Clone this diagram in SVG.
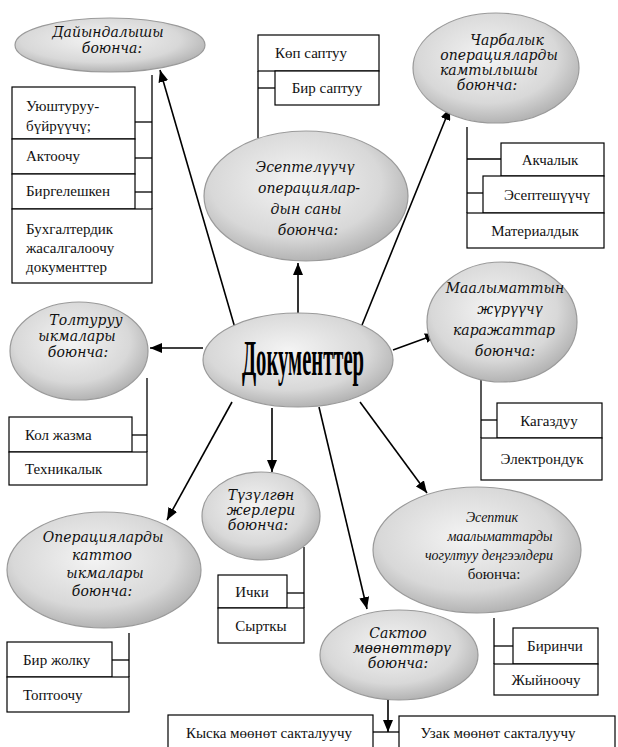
<svg xmlns="http://www.w3.org/2000/svg" width="618" height="747" viewBox="0 0 618 747">
<defs>
<radialGradient id="eg" cx="0.45" cy="0.4" r="0.6">
<stop offset="0" stop-color="#f4f4f4"/>
<stop offset="0.7" stop-color="#d8d8d8"/>
<stop offset="1" stop-color="#b4b4b4"/>
</radialGradient>
<marker id="ah" markerWidth="12" markerHeight="10" refX="12" refY="5" orient="auto" markerUnits="userSpaceOnUse">
<path d="M0,0 L12,5 L0,10 z" fill="#000"/>
</marker>
</defs>
<style>
.ell{fill:url(#eg);stroke:#9a9a9a;stroke-width:1.2}
.box{fill:#fff;stroke:#000;stroke-width:1.2}
.ln{stroke:#000;stroke-width:1.3;fill:none}
.arr{stroke:#000;stroke-width:1.6;fill:none;marker-end:url(#ah)}
.bt{font-family:'Liberation Serif',serif;font-size:15px;fill:#111}
.it{font-family:'DejaVu Serif','Liberation Serif',serif;font-style:italic;font-size:14px;fill:#111;text-anchor:middle}
.it2{font-family:'Liberation Serif',serif;font-style:italic;font-size:14px;fill:#111;text-anchor:middle}
.c{text-anchor:middle}
</style>
<rect width="618" height="747" fill="#fff"/>

<g id="connectors">
<line class="arr" x1="235" y1="328" x2="160" y2="70"/>
<line class="arr" x1="298" y1="313" x2="298" y2="263"/>
<line class="arr" x1="360" y1="330" x2="450" y2="108"/>
<line class="arr" x1="393" y1="350" x2="437" y2="334"/>
<line class="arr" x1="203" y1="348" x2="150" y2="348"/>
<line class="arr" x1="232" y1="402" x2="167" y2="520"/>
<line class="arr" x1="272" y1="408" x2="272" y2="472"/>
<line class="arr" x1="319" y1="407" x2="367" y2="609"/>
<line class="arr" x1="360" y1="402" x2="427" y2="493"/>
<line class="arr" x1="388" y1="700" x2="388" y2="732"/>
<line class="ln" x1="373" y1="732" x2="399" y2="732"/>
<line class="ln" x1="152" y1="75" x2="152" y2="209"/>
<line class="ln" x1="135" y1="122" x2="152" y2="122"/>
<line class="ln" x1="135" y1="158" x2="152" y2="158"/>
<line class="ln" x1="135" y1="192" x2="152" y2="192"/>
<line class="ln" x1="258" y1="71" x2="258" y2="138"/>
<line class="ln" x1="258" y1="88" x2="275" y2="88"/>
<line class="ln" x1="467" y1="127" x2="467" y2="213"/>
<line class="ln" x1="467" y1="159" x2="501" y2="159"/>
<line class="ln" x1="467" y1="193" x2="483" y2="193"/>
<line class="ln" x1="481" y1="380" x2="481" y2="438"/>
<line class="ln" x1="481" y1="420" x2="497" y2="420"/>
<line class="ln" x1="147" y1="378" x2="147" y2="452"/>
<line class="ln" x1="132" y1="435" x2="147" y2="435"/>
<line class="ln" x1="129" y1="633" x2="129" y2="677"/>
<line class="ln" x1="112" y1="660" x2="129" y2="660"/>
<line class="ln" x1="304" y1="547" x2="304" y2="608"/>
<line class="ln" x1="287" y1="593" x2="304" y2="593"/>
<line class="ln" x1="494" y1="618" x2="494" y2="664"/>
<line class="ln" x1="494" y1="646" x2="513" y2="646"/>
</g>

<g id="center">
<ellipse class="ell" cx="298" cy="360" rx="95" ry="47"/>
<text transform="translate(303,375) scale(0.41,1)" x="0" y="0" font-family="'Liberation Serif',serif" font-weight="bold" font-size="50" text-anchor="middle" textLength="298" lengthAdjust="spacingAndGlyphs" fill="#000">Документтер</text>
</g>

<g id="n-dayyn">
<ellipse class="ell" cx="110" cy="45" rx="95" ry="27"/>
<text class="it" x="108" y="37">Дайындалышы</text>
<text class="it" x="112" y="53">боюнча:</text>
<rect class="box" x="12" y="87" width="123" height="52"/>
<rect class="box" x="12" y="139" width="123" height="35"/>
<rect class="box" x="12" y="174" width="123" height="35"/>
<rect class="box" x="12" y="209" width="140" height="74"/>
<text class="bt" x="26" y="111">Уюштуруу-</text>
<text class="bt" x="26" y="131">бүйрүүчү;</text>
<text class="bt" x="26" y="161">Актоочу</text>
<text class="bt" x="26" y="196">Биргелешкен</text>
<text class="bt" x="26" y="234">Бухгалтердик</text>
<text class="bt" x="26" y="253">жасалгалоочу</text>
<text class="bt" x="26" y="272">документтер</text>
</g>

<g id="n-esep">
<ellipse class="ell" cx="306" cy="196" rx="102" ry="65"/>
<text class="it" x="305" y="172" font-size="15">Эсептелүүчү</text>
<text class="it" x="309" y="193" font-size="15">операциялар-</text>
<text class="it" x="306" y="214" font-size="15">дын саны</text>
<text class="it" x="308" y="235" font-size="15">боюнча:</text>
<rect class="box" x="258" y="35" width="121" height="36"/>
<rect class="box" x="275" y="71" width="104" height="34"/>
<text class="bt c" x="311" y="58">Көп саптуу</text>
<text class="bt c" x="327" y="93">Бир саптуу</text>
</g>

<g id="n-charb">
<ellipse class="ell" cx="496" cy="68" rx="83" ry="55"/>
<text class="it" x="507" y="45" font-size="12">Чарбалык</text>
<text class="it" x="499" y="60" font-size="12">операцияларды</text>
<text class="it" x="489" y="75" font-size="12">камтылышы</text>
<text class="it" x="487" y="90" font-size="12">боюнча:</text>
<rect class="box" x="501" y="143" width="103" height="33"/>
<rect class="box" x="483" y="176" width="121" height="37"/>
<rect class="box" x="467" y="213" width="137" height="35"/>
<text class="bt c" x="550" y="165">Акчалык</text>
<text class="bt c" x="547" y="200">Эсептешүүчү</text>
<text class="bt c" x="535" y="236">Материалдык</text>
</g>

<g id="n-maal">
<ellipse class="ell" cx="502" cy="322" rx="75" ry="60"/>
<text class="it" x="505" y="293" font-size="12.5">Маалыматтын</text>
<text class="it" x="510" y="314" font-size="12.5">жүрүүчү</text>
<text class="it" x="504" y="335" font-size="12.5">каражаттар</text>
<text class="it" x="505" y="356" font-size="12.5">боюнча:</text>
<rect class="box" x="497" y="403" width="105" height="35"/>
<rect class="box" x="481" y="438" width="121" height="42"/>
<text class="bt c" x="549" y="426">Кагаздуу</text>
<text class="bt c" x="542" y="464">Электрондук</text>
</g>

<g id="n-tolt">
<ellipse class="ell" cx="79" cy="351" rx="69" ry="49"/>
<text class="it" x="86" y="325" font-size="13">Толтуруу</text>
<text class="it" x="77" y="341" font-size="13">ыкмалары</text>
<text class="it" x="78" y="357" font-size="13">боюнча:</text>
<rect class="box" x="9" y="417" width="123" height="35"/>
<rect class="box" x="9" y="452" width="138" height="33"/>
<text class="bt" x="25" y="440">Кол жазма</text>
<text class="bt" x="25" y="474">Техникалык</text>
</g>

<g id="n-oper">
<ellipse class="ell" cx="104" cy="570" rx="97" ry="58"/>
<text class="it" x="103" y="542">Операцияларды</text>
<text class="it" x="102" y="560">каттоо</text>
<text class="it" x="105" y="578">ыкмалары</text>
<text class="it" x="102" y="596">боюнча:</text>
<rect class="box" x="7" y="642" width="105" height="35"/>
<rect class="box" x="7" y="677" width="122" height="35"/>
<text class="bt" x="23" y="665">Бир жолку</text>
<text class="bt" x="23" y="700">Топтоочу</text>
</g>

<g id="n-tuzul">
<ellipse class="ell" cx="261" cy="516" rx="59" ry="44"/>
<text class="it" x="261" y="500" font-size="12.5">Түзүлгөн</text>
<text class="it" x="261" y="515" font-size="12.5">жерлери</text>
<text class="it" x="258" y="530" font-size="12.5">боюнча:</text>
<rect class="box" x="218" y="575" width="69" height="33"/>
<rect class="box" x="218" y="608" width="86" height="35"/>
<text class="bt c" x="252" y="597">Ички</text>
<text class="bt c" x="261" y="631">Сырткы</text>
</g>

<g id="n-esepik">
<ellipse class="ell" cx="477" cy="550" rx="104" ry="63"/>
<text class="it2" x="492" y="522">Эсептик</text>
<text class="it2" x="500" y="541">маалыматтарды</text>
<text class="it2" x="489" y="560">чогултуу деңгээлдери</text>
<text class="bt c" x="494" y="579">боюнча:</text>
<rect class="box" x="513" y="628" width="85" height="36"/>
<rect class="box" x="494" y="664" width="104" height="31"/>
<text class="bt c" x="555" y="651">Биринчи</text>
<text class="bt c" x="546" y="685">Жыйноочу</text>
</g>

<g id="n-sakt">
<ellipse class="ell" cx="399" cy="655" rx="79" ry="45"/>
<text class="it" x="398" y="638" font-size="12">Сактоо</text>
<text class="it" x="402" y="653" font-size="12">мөөнөттөрү</text>
<text class="it" x="398" y="668" font-size="12">боюнча:</text>
<rect class="box" x="168" y="715" width="205" height="40"/>
<rect class="box" x="399" y="716" width="216" height="40"/>
<text class="bt c" x="269" y="738">Кыска мөөнөт сакталуучу</text>
<text class="bt c" x="498" y="738">Узак мөөнөт сакталуучу</text>
</g>
</svg>
